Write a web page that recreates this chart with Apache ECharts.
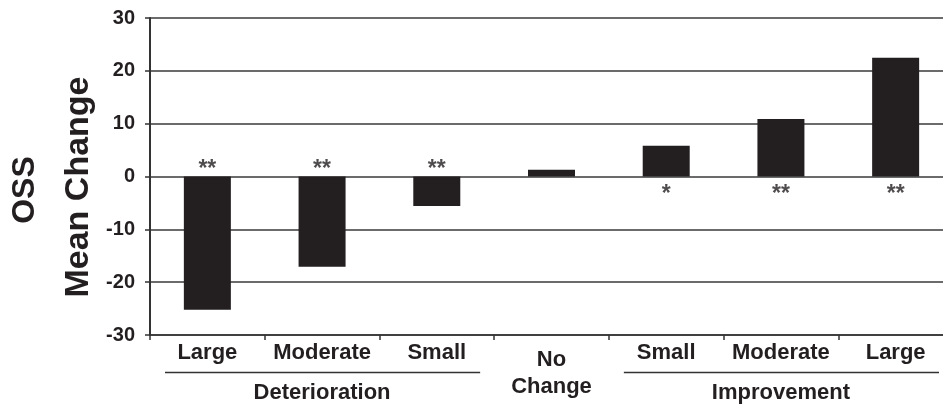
<!DOCTYPE html>
<html>
<head>
<meta charset="utf-8">
<script src="https://cdn.jsdelivr.net/npm/echarts@6/dist/echarts.min.js"></script>
<style>
  html, body { margin: 0; padding: 0; background: #fff; overflow: hidden; }
  /* the plot runs a little past the right edge of the page */
  #chart { width: 953px; height: 408px; }
</style>
</head>
<body>
<div id="chart"></div>
<script>
// OSS mean change by category of change
const categories = ['Large', 'Moderate', 'Small', 'No\nChange', 'Small', 'Moderate', 'Large'];
const meanChange = [-25.2, -17.1, -5.6, 1.3, 5.8, 10.9, 22.5];
const significance = ['**', '**', '**', '', '*', '**', '**'];
const groupNames = ['Deterioration', 'Improvement'];
const groupRanges = [[0, 2], [4, 6]];
const yMin = -30, yMax = 30, yStep = 10;

const INK = '#231f20';
const FONT = '"Liberation Sans", Arial, Helvetica, sans-serif';

const chart = echarts.init(document.getElementById('chart'), null, { renderer: 'canvas' });

const catData = categories.map(c => c.indexOf('\n') >= 0
  ? { value: c, textStyle: { lineHeight: 27, padding: [4, 0, 0, 0] } }
  : c);

chart.setOption({
  animation: false,
  backgroundColor: '#fff',
  grid: { left: 150, top: 18, right: 0, bottom: 73, containLabel: false },
  xAxis: {
    type: 'category',
    data: catData,
    boundaryGap: true,
    axisLine: { show: true, onZero: false, lineStyle: { color: '#333', width: 1.5 } },
    axisTick: { show: true, alignWithLabel: false, length: 5, lineStyle: { color: '#333', width: 1.5 } },
    axisLabel: {
      interval: 0, margin: 7,
      fontFamily: FONT, fontSize: 22, fontWeight: 'bold', color: INK
    },
    splitLine: { show: false }
  },
  yAxis: {
    type: 'value',
    min: yMin, max: yMax, interval: yStep,
    axisLine: { show: true, lineStyle: { color: '#333', width: 2 } },
    axisTick: { show: true, length: 5, lineStyle: { color: '#333', width: 1.5 } },
    axisLabel: {
      margin: 15,
      fontFamily: FONT, fontSize: 20, fontWeight: 'bold', color: INK
    },
    splitLine: { show: true, lineStyle: { color: '#3a3a3a', width: 1.5 } }
  },
  series: [
    {
      type: 'bar',
      data: meanChange,
      barWidth: 47,
      itemStyle: { color: INK },
      silent: true,
      z: 3
    },
    {
      // significance markers sit just off the zero line, away from the bar
      type: 'scatter',
      silent: true,
      symbolSize: 1,
      itemStyle: { color: 'rgba(0,0,0,0)' },
      z: 4,
      data: meanChange.map((v, i) => ({
        value: [i, 0],
        label: {
          show: significance[i] !== '',
          formatter: significance[i],
          position: 'inside',
          offset: [0, v < 0 ? -7 : 18],
          fontFamily: FONT, fontSize: 23, fontWeight: 'bold', color: INK
        }
      }))
    }
  ]
});

// Axis title and group brackets, placed from the axes' own scales
function px(i, v) { return chart.convertToPixel({ gridIndex: 0 }, [i, v]); }
const bottomY = px(0, yMin)[1];
const halfCat = (px(1, 0)[0] - px(0, 0)[0]) / 2;
const graphics = [
  {
    type: 'text', x: 25, y: 190, rotation: Math.PI / 2,
    style: { text: 'OSS', font: 'bold 32px ' + FONT, fill: INK,
             align: 'center', verticalAlign: 'middle', textAlign: 'center', textVerticalAlign: 'middle' }
  },
  {
    type: 'text', x: 79, y: 187, rotation: Math.PI / 2,
    style: { text: 'Mean Change', font: 'bold 34px ' + FONT, fill: INK,
             align: 'center', verticalAlign: 'middle', textAlign: 'center', textVerticalAlign: 'middle' }
  }
];
groupRanges.forEach((r, g) => {
  const left = px(r[0], 0)[0] - halfCat + 15;
  const right = px(r[1], 0)[0] + halfCat - 14;
  const mid = px((r[0] + r[1]) / 2, 0)[0];
  graphics.push({
    type: 'line',
    shape: { x1: left, y1: bottomY + 37.5, x2: right, y2: bottomY + 37.5 },
    style: { stroke: '#333', lineWidth: 1.5 }
  });
  graphics.push({
    type: 'text', x: mid, y: bottomY + 58,
    style: { text: groupNames[g], font: 'bold 22px ' + FONT, fill: INK,
             align: 'center', verticalAlign: 'middle', textAlign: 'center', textVerticalAlign: 'middle' }
  });
});
chart.setOption({ graphic: graphics });
</script>
</body>
</html>
